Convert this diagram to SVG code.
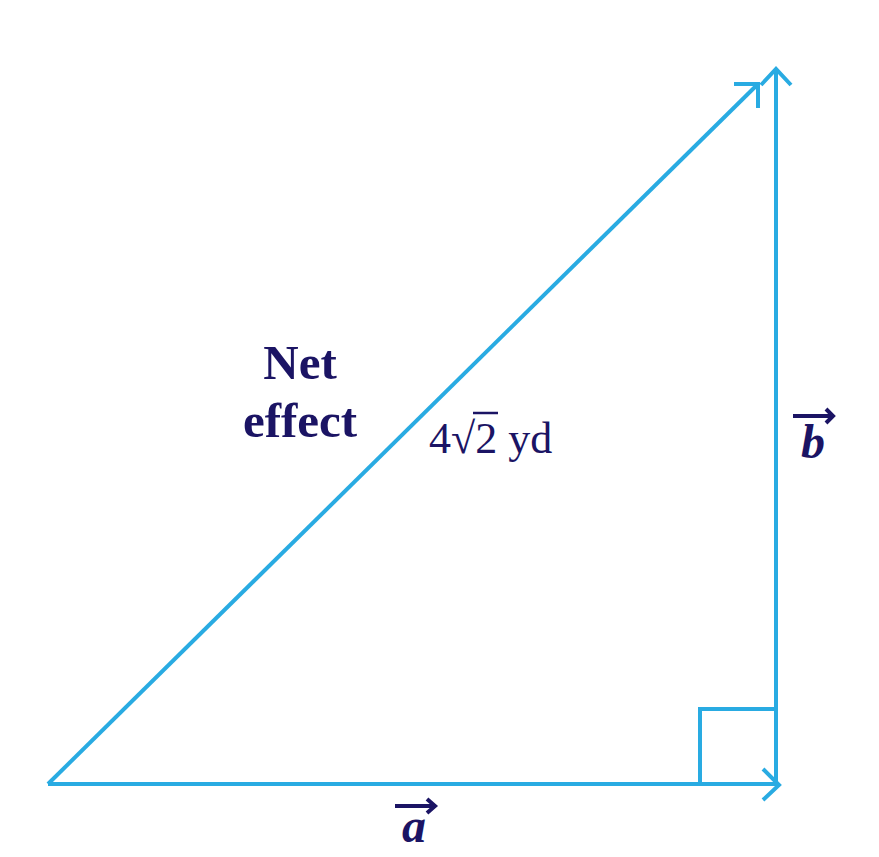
<svg xmlns="http://www.w3.org/2000/svg" width="879" height="857" viewBox="0 0 879 857">
<style>
.ln{fill:none;stroke:#29ABE2;stroke-width:4;stroke-linecap:butt;stroke-linejoin:miter}
.lbl{font-family:"Liberation Serif","Times New Roman",serif;fill:#1B1464}
.vec{fill:none;stroke:#1B1464;stroke-width:4}
</style>
<rect width="879" height="857" fill="#ffffff"/>
<g id="connectors">
<path class="ln" d="M48,784 L779,784"/>
<path class="ln" d="M763,769 L779,785 L763,800"/>
<path class="ln" d="M776,784 L776,70"/>
<path class="ln" d="M761,85 L776,69 L791,85"/>
<path class="ln" d="M48,784 L758,84"/>
<path class="ln" d="M734,84 L758,84 L758,108"/>
<path class="ln" d="M700,784 L700,709 L776,709"/>
</g>
<g id="node-net-effect">
<text class="lbl" x="300" y="379" font-size="49" font-weight="bold" text-anchor="middle">Net</text>
<text class="lbl" x="300" y="437" font-size="49" font-weight="bold" text-anchor="middle">effect</text>
</g>
<g id="node-length">
<text class="lbl" x="429" y="453" font-size="44">4√2 yd</text>
<path d="M473,413 L498,413" stroke="#1B1464" stroke-width="2.5"/>
</g>
<g id="node-a">
<path class="vec" d="M395,806 L435,806"/>
<path class="vec" d="M427,799 L435,806 L427,813"/>
<text class="lbl" x="414" y="842" font-size="48" font-weight="bold" font-style="italic" text-anchor="middle">a</text>
</g>
<g id="node-b">
<path class="vec" d="M793,416 L833,416"/>
<path class="vec" d="M826,409 L833,416 L826,423"/>
<text class="lbl" x="813" y="458" font-size="48" font-weight="bold" font-style="italic" text-anchor="middle">b</text>
</g>
</svg>
